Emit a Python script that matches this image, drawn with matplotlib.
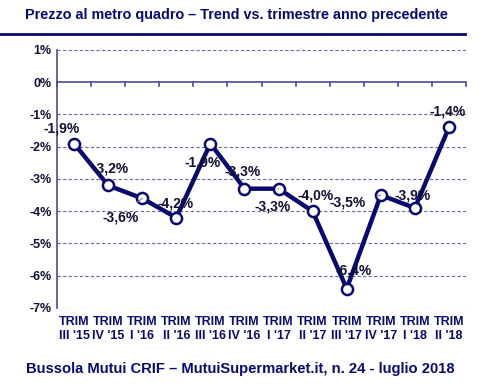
import matplotlib
matplotlib.use("Agg")
import matplotlib.pyplot as plt

plt.rcParams['font.family'] = ['Liberation Sans', 'DejaVu Sans']

quarters = ["TRIM\nIII '15", "TRIM\nIV '15", "TRIM\nI '16", "TRIM\nII '16", "TRIM\nIII '16", "TRIM\nIV '16",
            "TRIM\nI '17", "TRIM\nII '17", "TRIM\nIII '17", "TRIM\nIV '17", "TRIM\nI '18", "TRIM\nII '18"]
values = [-1.9, -3.2, -3.6, -4.2, -1.9, -3.3, -3.3, -4.0, -6.4, -3.5, -3.9, -1.4]
labels = ["-1,9%", "-3,2%", "-3,6%", "-4,2%", "-1,9%", "-3,3%", "-3,3%", "-4,0%", "-6,4%", "-3,5%", "-3,9%", "-1,4%"]
# label offsets in pixels (dx, dy) and whether a leader line is drawn
offsets = [(-12, 15), (2, 17), (-22, -19), (-1, 14), (-8, -19), (-2, 17), (-6, -18), (3, 16), (7, 18), (-33, -7), (-2, 13), (-1, 16)]
leader = [False, False, True, False, False, False, True, False, False, True, False, False]

navy = "#0a0a6e"
fig = plt.figure(figsize=(5, 3.86), dpi=100)
ax = fig.add_axes([57/500, 1-308/386, 409/500, 258/386])

x = list(range(len(values)))
ax.set_xlim(-0.5, 11.5)
ax.set_ylim(-7, 1)
for yv in range(-7, 2):
    if yv != 0:
        ax.axhline(yv, color="#6a6aaa", lw=0.8, ls=(0, (3, 2)), zorder=1)
ax.axhline(0, color="#4a4a9a", lw=1.2, zorder=2)
for k in range(13):
    ax.plot([k - 0.5, k - 0.5], [0, -0.12], color="#4a4a9a", lw=1.2, zorder=2, clip_on=False)

ax.plot(x, values, color=navy, lw=3.2, marker="o", ms=8, mfc="white", mec=navy, mew=1.8, zorder=4)

for i, v in enumerate(values):
    dx, dy = offsets[i]
    if leader[i]:
        ax.annotate(labels[i], (i, v), xytext=(dx, dy), textcoords="offset pixels",
                    ha="center", va="center", fontsize=10, fontweight="bold", color="#111133",
                    arrowprops=dict(arrowstyle="-", color="#7777aa", lw=0.8, shrinkA=6, shrinkB=5), zorder=5)
    else:
        ax.annotate(labels[i], (i, v), xytext=(dx, dy), textcoords="offset pixels",
                    ha="center", va="center", fontsize=10, fontweight="bold", color="#111133", zorder=5)

for s in ["top", "right", "bottom"]:
    ax.spines[s].set_visible(False)
ax.spines["left"].set_color("#4a4a9a")
ax.spines["left"].set_linewidth(1.2)

ax.set_yticks(range(-7, 2))
ax.set_yticklabels([f"{t}%" for t in range(-7, 2)], fontsize=9, fontweight="bold", color="#111133")
ax.tick_params(axis="y", length=0, pad=4)
ax.set_xticks(x)
ax.set_xticklabels(quarters, fontsize=9, fontweight="bold", color=navy, linespacing=1.2)
ax.tick_params(axis="x", length=0, pad=6)

fig.text(0.05, 1-15/386, "Prezzo al metro quadro \u2013 Trend vs. trimestre anno precedente",
         fontsize=10.4, fontweight="bold", color=navy, va="center", ha="left")
fig.add_artist(plt.Line2D([0, 465/500], [1-34/386, 1-34/386], color=navy, lw=2, transform=fig.transFigure))
fig.text(0.052, 1-369/386, "Bussola Mutui CRIF \u2013 MutuiSupermarket.it, n. 24 - luglio 2018",
         fontsize=10.6, fontweight="bold", color=navy, va="center", ha="left")

fig.savefig("out.png", dpi=100)
